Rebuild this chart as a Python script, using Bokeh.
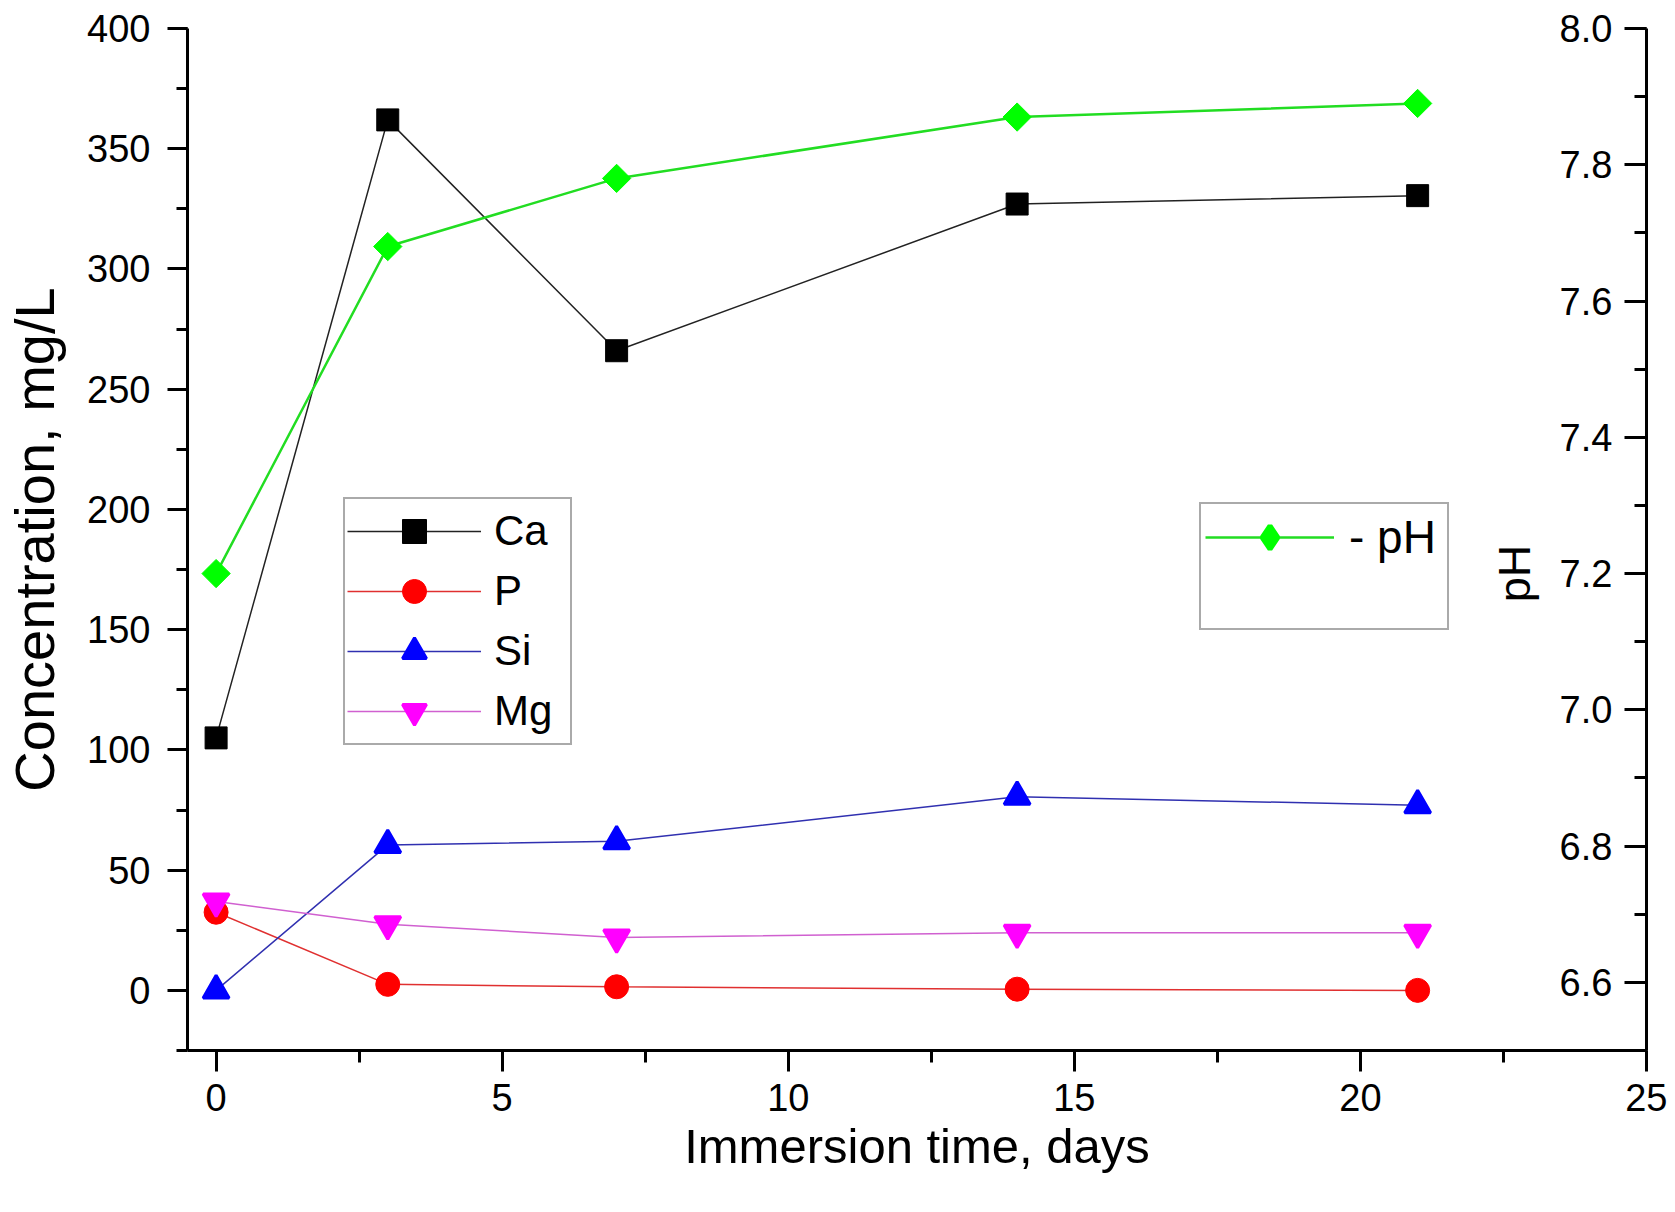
import math
from bokeh.plotting import figure
from bokeh.models import (Range1d, LinearAxis, SingleIntervalTicker, PrintfTickFormatter,
                          Legend, LegendItem, Label)
from bokeh.embed import file_html
from bokeh.resources import INLINE

# ---- data ----
days = [0, 3, 7, 14, 21]
ca = [105, 362, 266, 327, 330.5]
p_conc = [32.5, 2.5, 1.5, 0.5, 0]
si = [0, 60.5, 62, 80.5, 77]
mg = [37, 27.5, 22, 24, 24]
ph = [7.20, 7.68, 7.78, 7.87, 7.89]

x_title = "Immersion time, days"
y_title = "Concentration, mg/L"
y2_title = "pH"

FONT = "Liberation Sans"

p = figure(width=1667, height=1196, output_backend="svg", toolbar_location=None,
           x_range=Range1d(-0.5, 25), y_range=Range1d(-25, 400),
           min_border_left=185, min_border_right=21, min_border_top=28, min_border_bottom=146)
p.outline_line_color = None
p.xgrid.visible = False
p.ygrid.visible = False
p.background_fill_color = "white"
p.border_fill_color = "white"

p.extra_y_ranges = {"ph": Range1d(6.5, 8.0)}

xa = p.xaxis[0]
xa.ticker = SingleIntervalTicker(interval=5, num_minor_ticks=2)
xa.axis_label = x_title
ya = p.yaxis[0]
ya.ticker = SingleIntervalTicker(interval=50, num_minor_ticks=2)
ya.axis_label = y_title

for ax in (xa, ya):
    ax.axis_line_width = 3
    ax.axis_line_color = "black"
    ax.major_tick_line_width = 3
    ax.minor_tick_line_width = 3
    ax.major_tick_line_color = "black"
    ax.minor_tick_line_color = "black"
    ax.major_tick_in = 0
    ax.minor_tick_in = 0
    ax.major_label_text_font = FONT
    ax.major_label_text_font_size = "38px"
    ax.major_label_text_color = "black"
    ax.axis_label_text_font = FONT
    ax.axis_label_text_font_style = "normal"
    ax.axis_label_text_color = "black"

xa.major_tick_out = 21
xa.minor_tick_out = 12
xa.major_label_standoff = 12
xa.axis_label_text_font_size = "49px"
xa.axis_label_standoff = 5

ya.major_tick_out = 20
ya.minor_tick_out = 11
ya.major_label_standoff = 17
ya.axis_label_text_font_size = "56px"
ya.axis_label_standoff = 18

# right pH axis (labels drawn inside the frame)
ra = LinearAxis(y_range_name="ph",
                ticker=SingleIntervalTicker(interval=0.2, num_minor_ticks=2),
                formatter=PrintfTickFormatter(format="%.1f"))
ra.axis_line_width = 3
ra.axis_line_color = "black"
ra.major_tick_line_width = 3
ra.minor_tick_line_width = 3
ra.major_tick_in = 22
ra.major_tick_out = 0
ra.minor_tick_in = 12
ra.minor_tick_out = 0
ra.major_label_standoff = -87
ra.major_label_text_font = FONT
ra.major_label_text_font_size = "38px"
ra.major_label_text_color = "black"
p.add_layout(ra, "right")

p.add_layout(Label(x=22.69, y=7.2, y_range_name="ph", text=y2_title, angle=math.pi / 2,
                   text_align="center", text_baseline="middle", text_font=FONT,
                   text_font_size="45px", text_color="black"))

# ---- series ----
r_ca_l = p.line(days, ca, line_color="#222222", line_width=1.5)
r_ca_s = p.scatter(days, ca, marker="square", size=22, fill_color="black", line_color="black")

r_p_l = p.line(days, p_conc, line_color="#e03030", line_width=1.5)
r_p_s = p.scatter(days, p_conc, marker="circle", size=24, fill_color="#ff0000", line_color="#ff0000")

r_si_l = p.line(days, si, line_color="#3030b0", line_width=1.5)
r_si_s = p.scatter(days, si, marker="triangle", size=26, line_width=3,
                   fill_color="#0000ff", line_color="#0000ff")

r_mg_l = p.line(days, mg, line_color="#d060d0", line_width=1.5)
r_mg_s = p.scatter(days, mg, marker="inverted_triangle", size=26, line_width=3,
                   fill_color="#ff00ff", line_color="#ff00ff")

r_ph_l = p.line(days, ph, y_range_name="ph", line_color="#22dd22", line_width=2.5)
# diamond key (drawn small, hidden under the pH markers) used for the legend swatch
r_ph_key = p.scatter(days, ph, y_range_name="ph", marker="diamond", size=8, line_width=5,
                     fill_color="#00ff00", line_color="#00ff00")
r_ph_s = p.scatter(days, ph, y_range_name="ph", marker="square", angle=math.pi / 4, size=20,
                   fill_color="#00ff00", line_color="#00ff00")

r_blank = p.line(x=[], y=[], line_alpha=0)

common = dict(label_text_font=FONT, label_text_color="black", border_line_color="#555555",
              border_line_width=2, margin=0, background_fill_color="white",
              background_fill_alpha=1.0, spacing=0)

leg1 = Legend(items=[LegendItem(label="Ca", renderers=[r_ca_l, r_ca_s]),
                     LegendItem(label="P", renderers=[r_p_l, r_p_s]),
                     LegendItem(label="Si", renderers=[r_si_l, r_si_s]),
                     LegendItem(label="Mg", renderers=[r_mg_l, r_mg_s])],
              location=(156, 305), label_text_font_size="42px",
              padding=2, glyph_width=134, glyph_height=60, label_height=60,
              label_standoff=13, label_width=74, **common)
leg2 = Legend(items=[LegendItem(label="- pH", renderers=[r_ph_l, r_ph_key]),
                     LegendItem(label=" ", renderers=[r_blank])],
              location=(1012, 420), label_text_font_size="46px",
              padding=4, glyph_width=129, glyph_height=58, label_height=58,
              label_standoff=15, label_width=94, **common)
p.add_layout(leg1)
p.add_layout(leg2)

open("out.html", "w").write(file_html(p, INLINE))
